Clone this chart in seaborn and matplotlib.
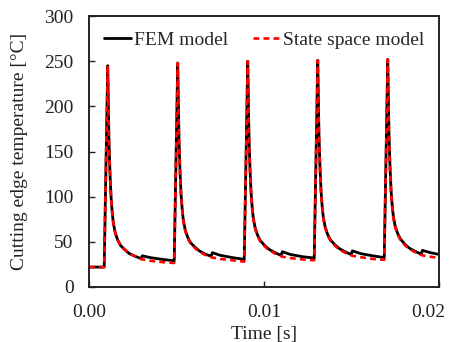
import pandas as pd
import seaborn as sns
import matplotlib.pyplot as plt
from matplotlib.transforms import ScaledTranslation

# time axis [s]
time_s = [
    0.0,
    0.00087, 0.00107, 0.00114, 0.00120, 0.00126, 0.00133, 0.00139, 0.00150, 0.00164,
    0.00180, 0.00206, 0.00230, 0.00263, 0.00290, 0.00298, 0.00305, 0.00350, 0.00420,
    0.00487, 0.00507, 0.00514, 0.00520, 0.00526, 0.00533, 0.00539, 0.00550, 0.00564,
    0.00580, 0.00606, 0.00630, 0.00663, 0.00690, 0.00698, 0.00705, 0.00750, 0.00820,
    0.00887, 0.00907, 0.00914, 0.00920, 0.00926, 0.00933, 0.00939, 0.00950, 0.00964,
    0.00980, 0.01006, 0.01030, 0.01063, 0.01090, 0.01098, 0.01105, 0.01150, 0.01220,
    0.01287, 0.01307, 0.01314, 0.01320, 0.01326, 0.01333, 0.01339, 0.01350, 0.01364,
    0.01380, 0.01406, 0.01430, 0.01463, 0.01490, 0.01498, 0.01505, 0.01550, 0.01620,
    0.01687, 0.01707, 0.01714, 0.01720, 0.01726, 0.01733, 0.01739, 0.01750, 0.01764,
    0.01780, 0.01806, 0.01830, 0.01863, 0.01890, 0.01898, 0.01905, 0.01950,
    0.02000,
]

fem_temp = [
    22,
    22, 245, 163, 126, 100, 82, 71, 60, 52,
    46, 41, 37, 34, 32, 31, 34.5, 32.5, 30.5,
    29, 248, 166, 129, 103, 85, 74, 63, 55,
    49, 44, 40, 36.5, 34.5, 34, 38, 35, 32.5,
    30.5, 250, 168, 131, 105, 87, 76, 65, 57,
    51, 45.5, 41.5, 38, 35.5, 35, 39, 36, 33.5,
    32, 251, 169, 132, 106, 88, 77, 66, 58,
    52, 46.5, 42.5, 39, 36.5, 36, 40, 37, 34.5,
    32.5, 252, 170, 133, 107, 89, 78, 67, 59,
    53, 47, 43, 39.5, 37, 36.5, 40.5, 38,
    36,
]

ss_temp = [
    22,
    22, 245, 163, 126, 100, 82, 71, 60, 52,
    46, 41, 37, 34, 32, 31, 30.5, 29, 27.5,
    26.5, 248, 165, 128, 102, 84, 73, 62, 54,
    48, 43, 39, 35.5, 33.5, 33, 32.5, 31, 29.5,
    28, 250, 167, 130, 104, 86, 75, 64, 56,
    50, 44.5, 40.5, 37, 34.5, 34, 33.5, 32, 30.5,
    29.5, 251, 168, 131, 105, 87, 76, 65, 57,
    51, 45.5, 41.5, 38, 35.5, 35, 34.5, 33, 31,
    30, 252, 169, 132, 106, 88, 77, 66, 58,
    52, 46, 42, 38.5, 36, 35.5, 35, 33.5,
    32,
]

x_ticks = [0.0, 0.01, 0.02]
x_tick_labels = ["0.00", "0.01", "0.02"]
y_ticks = [0, 50, 100, 150, 200, 250, 300]

df = pd.DataFrame({"t": time_s, "FEM model": fem_temp, "State space model": ss_temp})

sns.set_style("ticks")
plt.rcParams["font.family"] = ["Liberation Serif", "DejaVu Serif"]

fig = plt.figure(figsize=(4.54, 3.42), dpi=100)
ax = fig.add_axes([0.196, 0.161, 0.771, 0.792])

sns.lineplot(data=df, x="t", y="FEM model", ax=ax, color="black", lw=2,
             label="FEM model")
sns.lineplot(data=df, x="t", y="State space model", ax=ax, color="#ff0000", lw=1.9,
             label="State space model")
ax.lines[1].set_linestyle((0, (2.2, 1.6)))

ax.set_xlim(0, 0.02)
ax.set_ylim(0, 300)
ax.set_xticks(x_ticks)
ax.set_xticklabels(x_tick_labels)
ax.set_yticks(y_ticks)
ax.tick_params(direction="in", length=4, width=1, labelsize=14, colors="#222222")
ax.tick_params(axis="x", pad=12)
ax.tick_params(axis="y", pad=11)
for s in ax.spines.values():
    s.set_linewidth(1.4)
    s.set_color("#222222")

# last x label sits a bit left of its tick, inside the figure
lbl = ax.get_xticklabels()[-1]
lbl.set_transform(lbl.get_transform() + ScaledTranslation(-8 / 72, 0, fig.dpi_scale_trans))

ax.set_xlabel("Time [s]", fontsize=14, labelpad=4, color="#222222")
ax.set_ylabel("Cutting edge temperature [°C]", fontsize=14, labelpad=12, color="#222222")

ax.legend(loc="upper center", ncol=2, frameon=False, fontsize=14,
          handlelength=1.4, handletextpad=0.15, columnspacing=1.3,
          borderaxespad=0.4)

fig.savefig("out.png", dpi=100)
